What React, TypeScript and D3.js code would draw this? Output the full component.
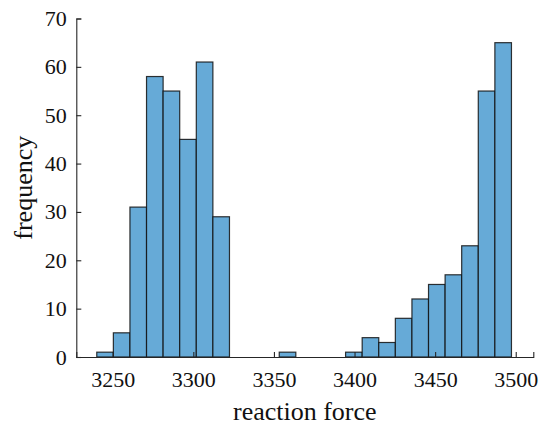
import React, { useRef, useEffect } from 'react'
import * as d3 from 'd3'

// histogram bins (reaction force)
const binStart = 3240.1
const binWidth = 10.29
const counts = [1, 5, 31, 58, 55, 45, 61, 29, 0, 0, 0, 1, 0, 0, 0, 1, 4, 3, 8, 12, 15, 17, 23, 55, 65]
const xTicks = [3250, 3300, 3350, 3400, 3450, 3500]
const yTicks = [0, 10, 20, 30, 40, 50, 60, 70]

const serif = 'Liberation Serif, Times New Roman, Times, serif'

const App = () => {
    const visEl = useRef(null)
    const width = 548
    const height = 427

    useEffect(() => {
        const root = d3.select(visEl.current)
        root.selectAll('*').remove()
        const svg = root.append('svg')
            .attr('width', width)
            .attr('height', height)
            .attr('font-family', serif)
            .style('position', 'absolute')
            .style('left', 0)
            .style('top', 0)

        svg.append('rect').attr('width', width).attr('height', height).attr('fill', '#fff')

        const xScale = d3.scaleLinear().domain([3227.4, 3510.9]).range([76.3, 533.3])
        const yScale = d3.scaleLinear().domain([0, 70]).range([357, 18.5])

        const bins = counts.map((c, i) => ({ x0: binStart + i * binWidth, x1: binStart + (i + 1) * binWidth, count: c }))

        svg.append('g').selectAll('rect').data(bins.filter(d => d.count > 0)).enter().append('rect')
            .attr('x', d => xScale(d.x0))
            .attr('y', d => yScale(d.count))
            .attr('width', d => xScale(d.x1) - xScale(d.x0))
            .attr('height', d => yScale(0) - yScale(d.count))
            .attr('fill', '#66aad7')
            .attr('stroke', '#111')
            .attr('stroke-opacity', 0.85)
            .attr('stroke-width', 1.2)

        const xAxis = d3.axisBottom(xScale).tickValues(xTicks).tickSize(-5).tickPadding(14).tickFormat(d3.format('d'))
        const xG = svg.append('g').attr('transform', `translate(0,${yScale(0)})`).call(xAxis)
        const yAxis = d3.axisLeft(yScale).tickValues(yTicks).tickSize(-5).tickPadding(9.5)
        const yG = svg.append('g').attr('transform', `translate(${xScale.range()[0]},0)`).call(yAxis)

        ;[xG, yG].forEach(g => {
            g.attr('font-size', 22).attr('font-family', serif)
            g.select('.domain').attr('stroke', '#262626').attr('stroke-width', 1.1)
            g.selectAll('.tick line').attr('stroke', '#262626').attr('stroke-width', 1.1)
            g.selectAll('.tick text').attr('fill', '#111')
        })

        svg.append('text')
            .attr('x', (xScale.range()[0] + xScale.range()[1]) / 2)
            .attr('y', 420)
            .attr('text-anchor', 'middle')
            .attr('fill', '#111')
            .attr('font-size', 26)
            .text('reaction force')

        svg.append('text')
            .attr('transform', `translate(32,${(yScale(0) + yScale(70)) / 2}) rotate(-90)`)
            .attr('text-anchor', 'middle')
            .attr('fill', '#111')
            .attr('font-size', 26)
            .text('frequency')
    }, [])

    return (
        <div>
            <div ref={visEl}></div>
        </div>
    )
}

export default App
